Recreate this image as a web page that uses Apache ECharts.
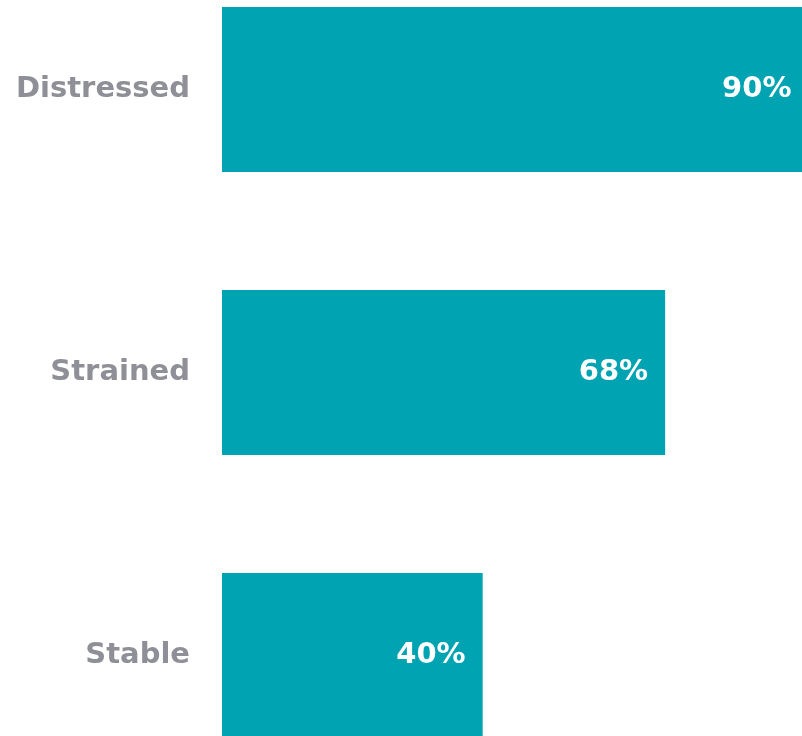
<!DOCTYPE html>
<html>
<head>
<meta charset="utf-8">
<script src="https://cdn.jsdelivr.net/npm/echarts@6/dist/echarts.min.js"></script>
<style>
  html, body { margin: 0; padding: 0; background: #fff; }
  #chart { width: 802px; height: 736px; }
</style>
</head>
<body>
<div id="chart"></div>
<script>
var categories = ['Stable', 'Strained', 'Distressed']
var values = [40, 68, 90]

var chart = echarts.init(document.getElementById('chart'))
chart.setOption({
  animation: false,
  grid: {
    left: 222,
    right: 0,
    top: -52,
    height: 849,
    outerBoundsMode: 'none'
  },
  xAxis: {
    type: 'value',
    min: 0,
    max: 89,
    show: false
  },
  yAxis: {
    type: 'category',
    data: categories,
    axisLine: { show: false },
    axisTick: { show: false },
    axisLabel: {
      margin: 32,
      color: '#8f8f97',
      fontFamily: 'DejaVu Sans',
      fontWeight: 'bold',
      fontSize: 29
    }
  },
  series: [{
    type: 'bar',
    data: values,
    barWidth: 165,
    clip: false,
    itemStyle: { color: '#00a3b1' },
    label: {
      show: true,
      position: 'insideRight',
      offset: [-12, 0],
      formatter: '{c}%',
      color: '#fff',
      fontFamily: 'DejaVu Sans',
      fontWeight: 'bold',
      fontSize: 29
    }
  }]
})
</script>
</body>
</html>
